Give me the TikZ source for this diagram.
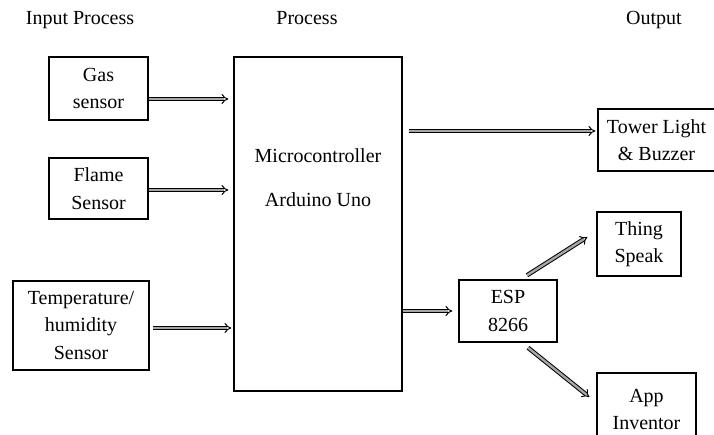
\documentclass[tikz,border=0pt]{standalone}
\usepackage{fontspec}
\setmainfont{Liberation Serif}
\usetikzlibrary{arrows.meta,calc}
\begin{document}
\begin{tikzpicture}[x=1pt,y=-1pt,
  txt/.style={font=\fontsize{20}{27.5}\selectfont, align=center, inner sep=0pt},
  blk/.style={txt, draw, line width=1.4pt},
  hdr/.style={font=\fontsize{20}{24}\selectfont, inner sep=0pt, anchor=base},
  dbl/.style={draw, line width=1pt, double=gray!70, double distance=2.4pt, -{Implies}}
]
\useasboundingbox (0,0) rectangle (714,435);
\clip (0,0) rectangle (714,435);
\fill[white] (0,0) rectangle (714,435);
% headers
\node[hdr] (hin) at (80,25) {Input Process};
\node[hdr] (hpr) at (307,25) {Process};
\node[hdr] (hout) at (654,25) {Output};
% boxes
\node[blk, minimum width=99, minimum height=63] (gas) at (98.5,88.5) {Gas\\sensor};
\node[blk, minimum width=99, minimum height=61] (flame) at (98.5,188.5) {Flame\\Sensor};
\node[blk, minimum width=136, minimum height=89] (temp) at (81,325.5) {Temperature/\\humidity\\Sensor};
\node[blk, minimum width=168, minimum height=334] (micro) at (318,224) {};
\node[txt, anchor=base] (mc1) at (318,163) {Microcontroller};
\node[txt, anchor=base] (mc2) at (318,207) {Arduino Uno};
\node[blk, minimum width=117, minimum height=62] (tower) at (656.5,140) {Tower Light\\\& Buzzer};
\node[blk, minimum width=84, minimum height=64] (thing) at (639,244) {Thing\\Speak};
\node[blk, minimum width=98, minimum height=62] (esp) at (508,311) {ESP\\8266};
\node[blk, minimum width=99, minimum height=73] (app) at (646.5,409.5) {App\\Inventor};
% arrows
\draw[dbl, shorten >=5pt] ([yshift=-10.5pt]gas.east) -- ([yshift=-10.5pt]gas.east -| micro.west);
\draw[dbl, shorten >=5pt] ([yshift=-1.5pt]flame.east) -- ([yshift=-1.5pt]flame.east -| micro.west);
\draw[dbl, shorten <=3pt, shorten >=2pt] ([yshift=-2.5pt]temp.east) -- ([yshift=-2.5pt]temp.east -| micro.west);
\draw[dbl, shorten <=6pt, shorten >=2pt] ([yshift=9pt]tower.west -| micro.east) -- ([yshift=9pt]tower.west);
\draw[dbl, shorten >=6pt] (esp.west -| micro.east) -- (esp.west);
\draw[dbl] ($(esp.north)+(19,-4)$) -- ($(thing.west)+(-9,-7)$);
\draw[dbl] ($(esp.south)+(20,5)$) -- ($(app.west)+(-7,-12.5)$);
\end{tikzpicture}
\end{document}
